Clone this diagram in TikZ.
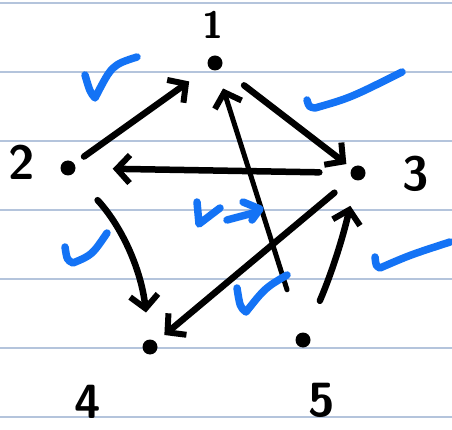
\documentclass[tikz,border=0pt]{standalone}
\usepackage{tikz}
\usetikzlibrary{arrows.meta}
\definecolor{rulegray}{RGB}{180,196,220}
\definecolor{tickblue}{RGB}{20,115,245}

\begin{document}
\begin{tikzpicture}[x=1pt,y=-1pt,
    dot/.style={circle,fill=black,inner sep=0pt,minimum size=15pt},
    num/.style={font=\fontsize{48}{48}\sffamily\bfseries\selectfont,inner sep=1pt},
    edge/.style={line width=6.5pt,line cap=round,-{Straight Barb[length=13pt,width=28pt,line width=6pt]}},
    tick/.style={tickblue,line width=7.5pt,line cap=round,line join=round}]
  \useasboundingbox[fill=white] (0,0) rectangle (452,430);
  % ruled paper
  \foreach \y in {3,72,141,210,279,348,417}
    \draw[rulegray,line width=1.6pt] (0,\y) -- (452,\y);

  \node[dot] (n1) at (215,63) {};
  \node[dot] (n2) at (68,168) {};
  \node[dot] (n3) at (358,173) {};
  \node[dot] (n4) at (150,347) {};
  \node[dot] (n5) at (303,340) {};

  \node[num,font=\fontsize{38}{38}\sffamily\bfseries\selectfont] (l1) at (213,25) {1};
  \node[num] (l2) at (22,162) {2};
  \node[num] (l3) at (416,174) {3};
  \node[num] (l4) at (88,402) {4};
  \node[num] (l5) at (322,400) {5};

  \draw[edge,shorten <=12pt,shorten >=24pt] (n2) -- (n1);
  \draw[edge,shorten <=29pt,shorten >=7pt] (n1) -- (n3);
  \draw[edge,shorten <=31pt,shorten >=37pt] (n3) -- (n2);
  \draw[edge,line width=5pt,shorten <=45pt,shorten >=19pt] (n5) -- (n1);
  \draw[edge,shorten <=23pt,shorten >=11pt] (n3) -- (n4);
  \draw[edge,shorten <=36pt,shorten >=27pt] (n2) to[bend left=18] (n4);
  \draw[edge,shorten <=35pt,shorten >=26pt] (n5) to[bend right=5] (n3);

  % checks
  \draw[tick] (85,75) .. controls (90,92) .. (95,98) .. controls (112,65) .. (137,57);
  \draw[tick] (307,100) .. controls (309,107) .. (315,108) .. controls (350,98) .. (402,72);
  \draw[tick] (65,247) .. controls (67,260) .. (73,263) .. controls (92,255) .. (107,233);
  \draw[tick] (237,288) .. controls (240,307) .. (246,312) .. controls (265,288) .. (287,275);
  \draw[tick] (375,257) .. controls (376,266) .. (380,268) .. controls (410,255) .. (450,242);
  \draw[tick] (197,202) -- (199,224) -- (220,208);
  \draw[tick] (227,220) -- (257,212);
  \draw[tick] (243,202) -- (260,209) -- (252,220);
\end{tikzpicture}
\end{document}
